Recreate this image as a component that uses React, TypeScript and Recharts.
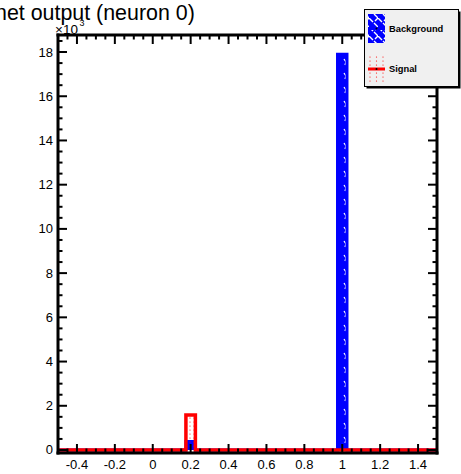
import { Area, ComposedChart, Line, XAxis, YAxis } from 'recharts'

// histogram bin edges (variable width) and counts per bin (last edge closes the range)
const binEdges = [-0.5, 0.175, 0.225, 0.975, 1.025, 1.5]
const backgroundCounts = [0, 380, 0, 17900, 0, 0]
const signalCounts = [0, 1580, 0, 0, 0, 0]

const xMajorTicks = [-0.4, -0.2, 0, 0.2, 0.4, 0.6, 0.8, 1, 1.2, 1.4]
const xLabels = ['-0.4', '-0.2', '0', '0.2', '0.4', '0.6', '0.8', '1', '1.2', '1.4']
const yMajorTicks = [0, 2000, 4000, 6000, 8000, 10000, 12000, 14000, 16000, 18000]
const yLabels = ['0', '2', '4', '6', '8', '10', '12', '14', '16', '18']

const X_DOMAIN: [number, number] = [-0.5, 1.5]
const Y_DOMAIN: [number, number] = [-136, 18770]

// minor ticks: 4 subdivisions between majors
const xTicks = Array.from({ length: 41 }, (_, i) => Math.round((-0.5 + i * 0.05) * 1000) / 1000)
const yTicks = Array.from({ length: 38 }, (_, i) => i * 500)

const FONT = '"Liberation Sans", Arial, Helvetica, sans-serif'

const data = binEdges.map((x, i) => ({ x, bkg: backgroundCounts[i], sig: signalCounts[i] }))

const isMajor = (list: number[], v: number) => list.findIndex((t) => Math.abs(t - v) < 1e-6)

function BottomTick({ x, y, payload }: any) {
  const i = isMajor(xMajorTicks, payload.value)
  return (
    <g>
      <line x1={x} x2={x} y1={y} y2={y - (i >= 0 ? 9 : 4.5)} stroke="#000" strokeWidth={2} />
      {i >= 0 && (
        <text x={x} y={y + 16} textAnchor="middle" fontSize={13} fontFamily={FONT} fill="#000">
          {xLabels[i]}
        </text>
      )}
    </g>
  )
}

function TopTick({ x, y, payload }: any) {
  const i = isMajor(xMajorTicks, payload.value)
  return <line x1={x} x2={x} y1={y} y2={y + (i >= 0 ? 9 : 4.5)} stroke="#000" strokeWidth={2} />
}

function LeftTick({ x, y, payload }: any) {
  const i = isMajor(yMajorTicks, payload.value)
  return (
    <g>
      <line x1={x} x2={x + (i >= 0 ? 9 : 4.5)} y1={y} y2={y} stroke="#000" strokeWidth={2} />
      {i >= 0 && (
        <text x={x - 5} y={y + 4.5} textAnchor="end" fontSize={13} fontFamily={FONT} fill="#000">
          {yLabels[i]}
        </text>
      )}
    </g>
  )
}

function RightTick({ x, y, payload }: any) {
  const i = isMajor(yMajorTicks, payload.value)
  return <line x1={x} x2={x - (i >= 0 ? 9 : 4.5)} y1={y} y2={y} stroke="#000" strokeWidth={2} />
}

const frame = { stroke: '#000', strokeWidth: 3, strokeLinecap: 'square' as const }

export default function App() {
  return (
    <div style={{ position: 'absolute', left: 0, top: 0, width: 461, height: 474, background: '#fff' }}>
      <ComposedChart
        width={461}
        height={474}
        data={data}
        margin={{ top: 34, right: 23, bottom: 20, left: 57 }}
      >
        <defs>
          <pattern id="bkgHatch" patternUnits="userSpaceOnUse" width="10" height="14">
            <rect width="10" height="14" fill="#0000ff" />
            <path d="M4 3 L6 6 L5 9" stroke="#fff" strokeWidth="1.3" fill="none" />
          </pattern>
          <pattern id="sigDots" patternUnits="userSpaceOnUse" width="4" height="4">
            <circle cx="2" cy="2" r="0.6" fill="#ff0000" />
          </pattern>
        </defs>

        <XAxis
          xAxisId="bottom"
          dataKey="x"
          type="number"
          domain={X_DOMAIN}
          allowDataOverflow
          ticks={xTicks}
          interval={0}
          height={1}
          tickSize={0}
          tickMargin={0}
          tickLine={false}
          axisLine={frame}
          tick={BottomTick}
        />
        <XAxis
          xAxisId="top"
          orientation="top"
          dataKey="x"
          type="number"
          domain={X_DOMAIN}
          allowDataOverflow
          ticks={xTicks}
          interval={0}
          height={1}
          tickSize={0}
          tickMargin={0}
          tickLine={false}
          axisLine={frame}
          tick={TopTick}
        />
        <YAxis
          yAxisId="left"
          type="number"
          domain={Y_DOMAIN}
          allowDataOverflow
          ticks={yTicks}
          interval={0}
          width={1}
          tickSize={0}
          tickMargin={0}
          tickLine={false}
          axisLine={frame}
          tick={LeftTick}
        />
        <YAxis
          yAxisId="right"
          orientation="right"
          type="number"
          domain={Y_DOMAIN}
          allowDataOverflow
          ticks={yTicks}
          interval={0}
          width={1}
          tickSize={0}
          tickMargin={0}
          tickLine={false}
          axisLine={frame}
          tick={RightTick}
        />

        <Area
          xAxisId="bottom"
          yAxisId="left"
          type="stepAfter"
          dataKey="bkg"
          baseValue={0}
          stroke="#0000ff"
          strokeWidth={3}
          fill="url(#bkgHatch)"
          fillOpacity={1}
          dot={false}
          activeDot={false}
          isAnimationActive={false}
        />
        <Area
          xAxisId="bottom"
          yAxisId="left"
          type="stepAfter"
          dataKey="sig"
          baseValue={0}
          stroke="#ff0000"
          strokeWidth={3.5}
          fill="url(#sigDots)"
          fillOpacity={1}
          dot={false}
          activeDot={false}
          isAnimationActive={false}
        />
        {/* keeps the mirrored top/right axes bound to data */}
        <Line
          xAxisId="top"
          yAxisId="right"
          dataKey="sig"
          stroke="none"
          dot={false}
          activeDot={false}
          isAnimationActive={false}
        />
      </ComposedChart>

      <svg
        width={461}
        height={474}
        style={{ position: 'absolute', left: 0, top: 0, pointerEvents: 'none' }}
        fontFamily={FONT}
      >
        <defs>
          <pattern id="legHatch" patternUnits="userSpaceOnUse" width="9" height="9">
            <rect width="9" height="9" fill="#0000ff" />
            <path d="M0 0 L4 4 M5 5 L9 9 M9 0 L6 3" stroke="#fff" strokeWidth="1.4" />
          </pattern>
        </defs>
        <text x={-5} y={20} fontSize={21.4} fill="#000">
          net output (neuron 0)
        </text>
        <text x={55} y={34} fontSize={13.5} fill="#000">
          ×10
        </text>
        <text x={79.5} y={26} fontSize={9} fill="#000">
          3
        </text>

        {/* legend */}
        <rect x={366.5} y={11.5} width={94} height={77} fill="#000" />
        <rect x={364.5} y={9.5} width={94} height={77} fill="#f0f0f0" stroke="#000" strokeWidth={1} />
        <rect x={368} y={14} width={17} height={29} fill="url(#legHatch)" />
        <line x1={368} x2={385} y1={28.5} y2={28.5} stroke="#0000ff" strokeWidth={3} />
        <circle cx={376.5} cy={28.5} r={1} fill="#000" />
        <text x={389} y={31.5} fontSize={9.3} fontWeight="bold" fill="#000">
          Background
        </text>
        {[57, 61, 65, 73, 77, 81].map((yy) =>
          [370, 376.5, 383].map((xx) => (
            <circle key={`${xx}-${yy}`} cx={xx} cy={yy} r={0.6} fill="#ff0000" />
          ))
        )}
        <line x1={368} x2={385} y1={69} y2={69} stroke="#ff0000" strokeWidth={3} />
        <circle cx={376.5} cy={69} r={1} fill="#000" />
        <text x={389} y={72} fontSize={9.3} fontWeight="bold" fill="#000">
          Signal
        </text>
      </svg>
    </div>
  )
}
